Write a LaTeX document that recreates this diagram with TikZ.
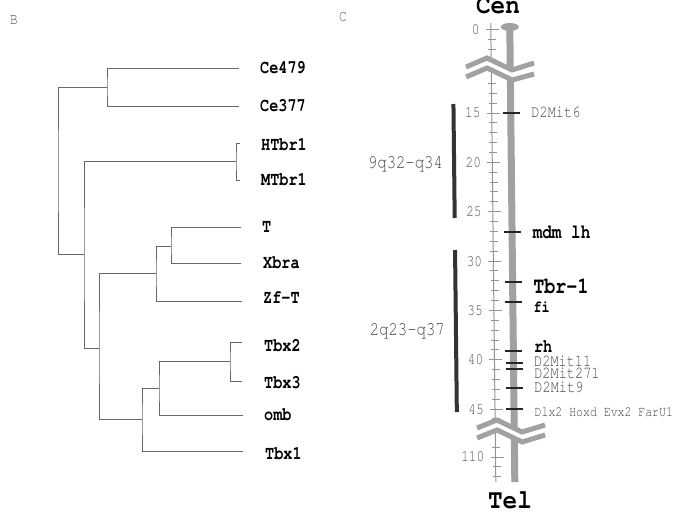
\documentclass[tikz,border=0pt]{standalone}
\usepackage[T1]{fontenc}
\usepackage{courier}
\usepackage{graphicx}
\usetikzlibrary{positioning}
\newcommand\fs[1]{\fontsize{#1}{#1}\selectfont}
\newcommand\sq[1]{\scalebox{0.8}[1]{#1}}
\newcommand\sqw[1]{\scalebox{0.9}[1]{#1}}

\begin{document}
\begin{tikzpicture}[x=1pt,y=-1pt,
  branch/.style={draw=black!60,line width=0.8pt},
  leaf/.style={font=\ttfamily\bfseries\fs{19},inner sep=0pt,anchor=west},
  gene/.style={font=\ttfamily\bfseries\fs{#1},inner sep=0pt,anchor=west},
  probe/.style={font=\ttfamily\fs{#1},text=black!72,inner sep=0pt,anchor=west,
    text height=8.5pt,text depth=0pt},
  num/.style={font=\ttfamily\fs{16},text=black!68,inner sep=0pt,anchor=east},
  panel/.style={font=\ttfamily\fs{16},text=black!65,inner sep=0pt},
  human/.style={draw=black!80,line width=4pt},
  humanlab/.style={font=\ttfamily\fs{19.5},text=black!72,inner sep=0pt,anchor=east},
  axis/.style={draw=black!42,line width=1pt},
  chrom/.style={fill=black!37},
  band/.style={draw=black!37,line width=5pt},
  gap/.style={draw=white,line width=8pt},
  marker/.style={draw=black!85,line width=1.3pt}]
\useasboundingbox (0,0) rectangle (674,511);

\node[panel] (pB) at (14,20) {\sq{B}};
\node[panel] (pC) at (343,17) {\sq{C}};

% tree
\coordinate (l-ce479) at (239,68);
\coordinate (l-ce377) at (239,106);
\coordinate (l-htbr1) at (240,143);
\coordinate (l-mtbr1) at (240,180);
\coordinate (l-t) at (241,227);
\coordinate (l-xbra) at (241,263);
\coordinate (l-zft) at (242,301);
\coordinate (l-tbx2) at (242,342);
\coordinate (l-tbx3) at (242,381);
\coordinate (l-omb) at (243,415);
\coordinate (l-tbx1) at (243,451);

\coordinate (n-ce) at (107,87);
\coordinate (n-root) at (58,170);
\coordinate (n-tbr) at (236,161);
\coordinate (n-b) at (84,254);
\coordinate (n-c) at (99,348);
\coordinate (n-t) at (156,273);
\coordinate (n-tx) at (171,246);
\coordinate (n-tbx) at (142,419);
\coordinate (n-tb23) at (159,388);
\coordinate (n-tb2) at (230,361);

\draw[branch] (l-ce479) -| (n-ce) |- (l-ce377);
\draw[branch] (n-ce) -| (n-root) |- (n-b);
\draw[branch] (l-htbr1) -| (n-tbr) |- (l-mtbr1);
\draw[branch] (n-tbr) -| (n-b) |- (n-c);
\draw[branch] (n-t) -| (n-c) |- (n-tbx);
\draw[branch] (n-tx) -| (n-t) |- (l-zft);
\draw[branch] (l-t) -| (n-tx) |- (l-xbra);
\draw[branch] (n-tb23) -| (n-tbx) |- (l-tbx1);
\draw[branch] (n-tb2) -| (n-tb23) |- (l-omb);
\draw[branch] (l-tbx2) -| (n-tb2) |- (l-tbx3);

\node[leaf,right=21pt of l-ce479] (ce479) {\sq{Ce479}};
\node[leaf,right=21pt of l-ce377] (ce377) {\sq{Ce377}};
\node[leaf,right=21pt of l-htbr1,yshift=-2pt] (htbr1) {\sq{HTbr1}};
\node[leaf,right=21pt of l-mtbr1] (mtbr1) {\sq{MTbr1}};
\node[leaf,right=21pt of l-t] (t) {\sq{T}};
\node[leaf,right=22pt of l-xbra] (xbra) {\sq{Xbra}};
\node[leaf,right=21pt of l-zft,yshift=3pt] (zft) {\sq{Zf-T}};
\node[leaf,right=22pt of l-tbx2,yshift=-4pt] (tbx2) {\sq{Tbx2}};
\node[leaf,right=22pt of l-tbx3,yshift=-2pt] (tbx3) {\sq{Tbx3}};
\node[leaf,right=21pt of l-omb] (omb) {\sq{omb}};
\node[leaf,right=22pt of l-tbx1,yshift=-3pt] (tbx1) {\sq{Tbx1}};

% map
\begin{scope}[xslant=-0.011]
\draw[human] (452.3,104) -- (452.3,218);
\node[humanlab] (h9) at (441.3,164) {\sq{9q32-q34}};
\draw[human] (452.3,250) -- (452.3,412);
\node[humanlab] (h2) at (441.3,331) {\sq{2q23-q37}};

% scale
\draw[axis] (490.5,23) -- (490.5,482);
\foreach \v in {1,...,3}
  \draw[axis] (487.5,30+10*\v) -- (495.5,30+10*\v);
\draw[axis] (485.5,30) -- (498.5,30);
\node[num] (s0) at (479.5,30) {\sq{0}};
\foreach \v in {12,...,46}{
  \pgfmathsetmacro\yy{113+(\v-15)*9.87}
  \draw[axis] (487.5,\yy) -- (495.5,\yy);
}
\foreach \v in {15,20,...,45}{
  \pgfmathsetmacro\yy{113+(\v-15)*9.87}
  \draw[axis] (485.5,\yy) -- (498.5,\yy);
  \node[num] (s\v) at (479.5,\yy) {\sq{\v}};
}
\foreach \v in {109,...,112}{
  \pgfmathsetmacro\yy{457+(\v-110)*9.7}
  \draw[axis] (487.5,\yy) -- (495.5,\yy);
}
\draw[axis] (485.5,457) -- (498.5,457);
\node[num] (s110) at (479.5,457) {\sq{110}};

% chromosome
\fill[chrom] (506,27) rectangle (513,482);
\fill[chrom] (509.5,27) ellipse (9 and 4);

% breaks
\draw[gap] (465.3,72) -- (486.3,63) -- (511.3,75) -- (533.3,69);
\draw[band] (465.3,67) -- (486.3,58) -- (511.3,70) -- (533.3,63);
\draw[band] (465.3,77) -- (486.3,68) -- (511.3,80) -- (533.3,74);
\draw[gap] (472.3,433) -- (492.3,425) -- (517.3,437) -- (540.3,430);
\draw[band] (472.3,428) -- (492.3,420) -- (517.3,432) -- (540.3,425);
\draw[band] (472.3,438) -- (492.3,430) -- (517.3,442) -- (540.3,435);

% loci
\foreach \y in {113,232,282,302,351,363,369,388,409}
  \draw[marker] (501.5,\y) -- (518.5,\y);
\node[probe=17] (d2mit6) at (530,113) {\sq{D2Mit6}};
\node[gene=20] (mdm) at (530,232.5) {\sq{mdm lh}};
\node[gene=23] (tbr) at (530,286) {\sq{Tbr-1}};
\node[gene=17] (fi) at (530,306.5) {\sq{fi}};
\node[gene=19] (rh) at (530,347) {\sq{rh}};
\node[probe=17] (d2mit11) at (530,362.5) {\sq{D2Mit11}};
\node[probe=17] (d2mit271) at (530,374) {\sq{D2Mit271}};
\node[probe=17] (d2mit9) at (530,388.5) {\sq{D2Mit9}};
\node[probe=14.4] (dlx2) at (530,412) {\sq{Dlx2 Hoxd Evx2 FarU1}};
\end{scope}

\node[font=\ttfamily\bfseries\fs{27},inner sep=0pt,anchor=base] (cen) at (498,14) {\sqw{Cen}};
\node[font=\ttfamily\bfseries\fs{27},inner sep=0pt,anchor=base] (tel) at (510,508) {\sqw{Tel}};

\end{tikzpicture}
\end{document}
